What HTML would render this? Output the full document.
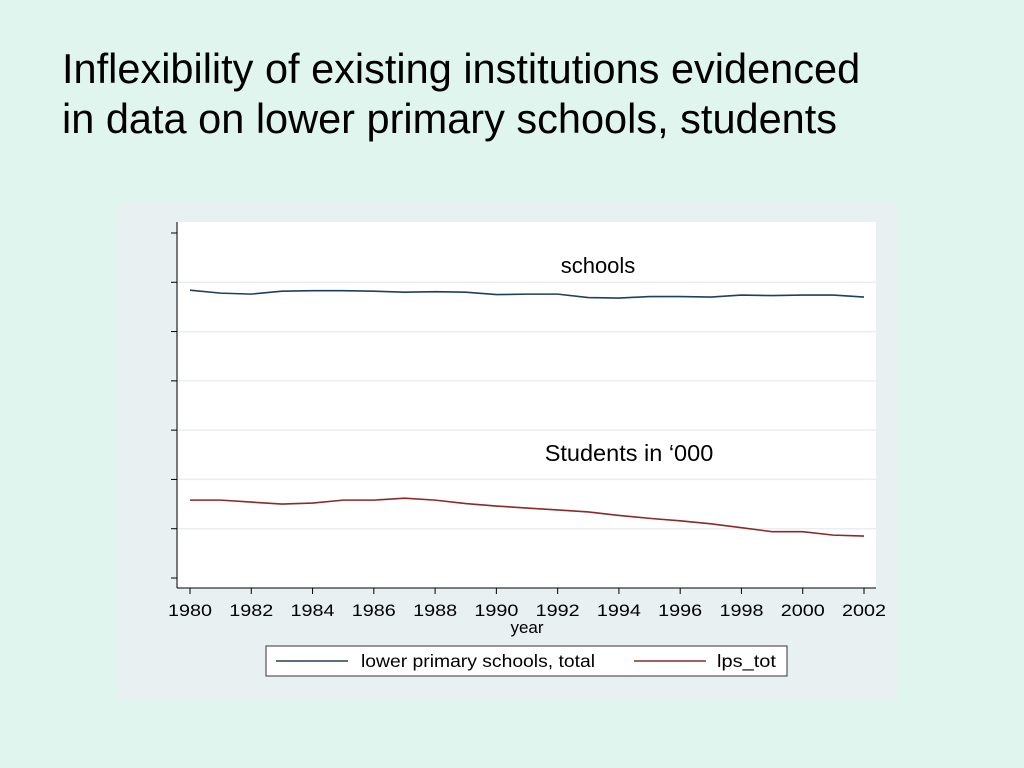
<!DOCTYPE html>
<html><head><meta charset="utf-8"><style>
body{margin:0;width:1024px;height:768px;background:#dff5ee;overflow:hidden;font-family:"Liberation Sans",sans-serif}
#title{position:absolute;left:62px;top:44px;font-size:41.5px;line-height:50px;color:#000;white-space:nowrap}
</style></head><body>
<div id="title">Inflexibility of existing institutions evidenced<br>in data on lower primary schools, students</div>
<svg width="1024" height="768" style="position:absolute;left:0;top:0">
<rect x="118" y="203" width="779" height="497" fill="#e9f0f1"/>
<rect x="178" y="222" width="698" height="366" fill="#ffffff"/>
<g id="grid"></g><g id="axes"></g><g id="series"></g>
<text x="598" y="273" font-size="22" text-anchor="middle">schools</text>
<text x="629" y="461" font-size="23.5" text-anchor="middle">Students in ‘000</text>
<text x="527" y="633" font-size="17" text-anchor="middle">year</text>
<g>
<rect x="266" y="646" width="521" height="30" fill="#fff" stroke="#333" stroke-width="1"/>
<line x1="276" y1="661" x2="348" y2="661" stroke="#1f3f5f" stroke-width="1.6"/>
<text x="361" y="667" font-size="17.5" textLength="234" lengthAdjust="spacingAndGlyphs">lower primary schools, total</text>
<line x1="634" y1="661" x2="706" y2="661" stroke="#8b2a2a" stroke-width="1.6"/>
<text x="717" y="667" font-size="17.5" textLength="59" lengthAdjust="spacingAndGlyphs">lps_tot</text>
</g>
</svg>
<script>
const years=[1980,1981,1982,1983,1984,1985,1986,1987,1988,1989,1990,1991,1992,1993,1994,1995,1996,1997,1998,1999,2000,2001,2002];
const schools=[5.84,5.78,5.76,5.82,5.83,5.83,5.82,5.80,5.81,5.80,5.75,5.76,5.76,5.69,5.68,5.71,5.71,5.70,5.74,5.73,5.74,5.74,5.70];
const students=[1.58,1.58,1.54,1.50,1.52,1.58,1.58,1.62,1.58,1.51,1.46,1.42,1.38,1.34,1.27,1.21,1.16,1.10,1.02,0.94,0.94,0.87,0.85];
const yTicks=[0,1,2,3,4,5,6,7];
const xTicks=[1980,1982,1984,1986,1988,1990,1992,1994,1996,1998,2000,2002];
const NS="http://www.w3.org/2000/svg";
const xs=v=>190+(v-1980)*(864-190)/22;
const ys=v=>578-v*(578-233)/7;
function mk(t,a,p){const e=document.createElementNS(NS,t);for(const k in a)e.setAttribute(k,a[k]);p.appendChild(e);return e;}
const grid=document.getElementById('grid'),axes=document.getElementById('axes'),ser=document.getElementById('series');
yTicks.forEach(v=>{
  if(v>0&&v<7){const g=mk('line',{x1:178,x2:876,y1:ys(v),y2:ys(v),stroke:'#eaeef0','stroke-width':1.5},grid);
  
  }
  const t=mk('line',{x1:171,x2:177,y1:ys(v),y2:ys(v),stroke:'#000'},axes);
  
  
});
const ya=mk('line',{x1:177,x2:177,y1:222,y2:588,stroke:'#000'},axes);


const xa=mk('line',{x1:177,x2:876,y1:588,y2:588,stroke:'#000'},axes);


xTicks.forEach(v=>{
  const t=mk('line',{x1:xs(v),x2:xs(v),y1:588,y2:594,stroke:'#000'},axes);
  
  
  const l=mk('text',{x:xs(v),y:616,'font-size':17,'text-anchor':'middle',textLength:44,lengthAdjust:'spacingAndGlyphs'},axes);
  l.textContent=v;
  
  
});
function line(vals,color,name){
  const p=mk('polyline',{points:vals.map((v,i)=>xs(years[i])+','+ys(v)).join(' '),fill:'none',stroke:color,'stroke-width':1.6},ser);
  
  
}
line(schools,'#1f3f5f','schools-line');
line(students,'#8b2a2a','students-line');
</script>
</body></html>
